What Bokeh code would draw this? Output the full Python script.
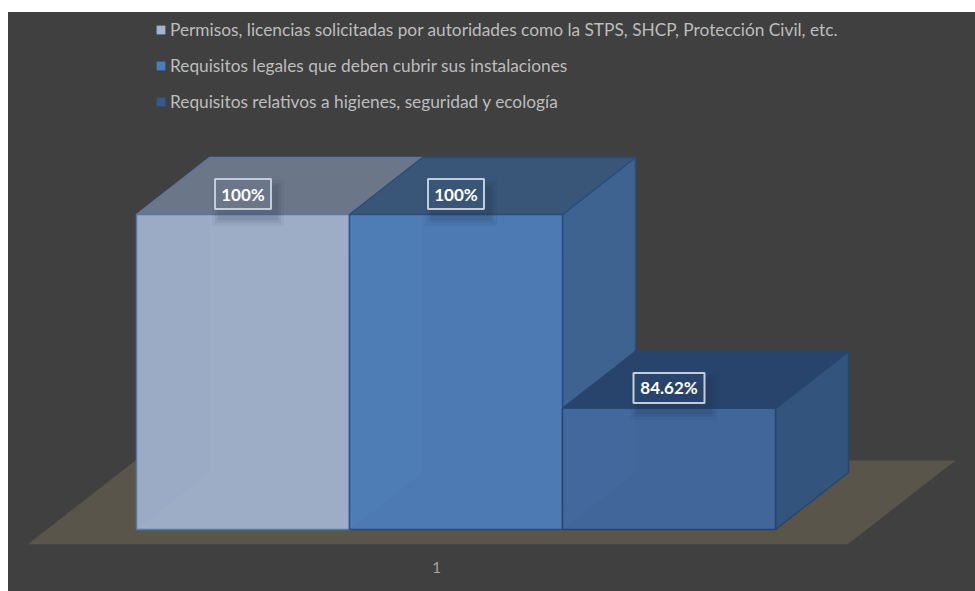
from bokeh.plotting import figure
from bokeh.embed import file_html
from bokeh.resources import INLINE
from bokeh.core.properties import value
from bokeh.models import Legend, LegendItem, FixedTicker, Range1d

series = ["Permisos, licencias solicitadas por autoridades como la STPS, SHCP, Protección Civil, etc.",
          "Requisitos legales que deben cubrir sus instalaciones",
          "Requisitos relativos a higienes, seguridad y ecología"]
values = [100, 100, 84.62]
labels = ["100%", "100%", "84.62%"]
category = ["1"]

front_col = ["#9DADC6", "#4D7AB3", "#41669A"]
top_col = ["#6C7689", "#395678", "#29446C"]
side_col = ["#3F6390", "#3F6390", "#33547C"]
edge_col = ["#5878A6", "#2B4D7C", "#27466F"]
swatch_col = ["#A5B4CF", "#4A7EBB", "#36598A"]
wall_alpha = [0.03, 0.10, 0.07]

# scale: one series slot = 213 px, one percent = 12.6 px, axis floor = 75 %
PX_X, PX_Y, AXIS_MIN = 213.0, 12.6, 75.0
X0_PAGE, BASE_PAGE = 136.0, 529.0
DX, DY = 73 / PX_X, 57 / PX_Y
W, H = 967, 579
BOTTOM = 47

x_start = (8 - X0_PAGE) / PX_X
x_end = (975 - X0_PAGE) / PX_X
y_start = AXIS_MIN - (544 - BASE_PAGE) / PX_Y
y_end = AXIS_MIN + (BASE_PAGE - 12) / PX_Y

p = figure(width=W, height=H, output_backend="svg", toolbar_location=None,
           x_range=Range1d(x_start, x_end), y_range=Range1d(y_start, y_end),
           min_border_left=0, min_border_right=0, min_border_top=0, min_border_bottom=BOTTOM,
           background_fill_color=None, border_fill_color=None, outline_line_color=None)
p.margin = (12, 0, 0, 8)
p.styles = {"background-color": "#404040"}
p.grid.visible = False
p.yaxis.visible = False

# floor
fy0, fy1 = y_start, AXIS_MIN + (BASE_PAGE - 460) / PX_Y
p.patch([(27 - X0_PAGE) / PX_X, (847 - X0_PAGE) / PX_X, (955 - X0_PAGE) / PX_X, (135 - X0_PAGE) / PX_X],
        [fy0, fy0, fy1, fy1], fill_color="#59554A", line_color=None)

for i, v in enumerate(values):
    x0, x1 = i, i + 1
    p.patch([x1, x1 + DX, x1 + DX, x1], [v, v + DY, AXIS_MIN + DY, AXIS_MIN],
            fill_color=side_col[i], line_color=edge_col[i], line_width=1.5)
for i, v in enumerate(values):
    x0, x1 = i, i + 1
    p.patch([x0, x0 + DX, x1 + DX, x1], [v, v + DY, v + DY, v],
            fill_color=top_col[i], line_color=edge_col[i], line_width=1.5)
for i, v in enumerate(values):
    x0, x1 = i, i + 1
    p.quad(left=x0, right=x1, bottom=AXIS_MIN, top=v, fill_color=front_col[i],
           line_color=edge_col[i], line_width=1.5)
    # seen-through interior: left wall slightly lighter
    p.patch([x0, x0 + DX, x0 + DX, x0], [v, v, AXIS_MIN + DY, AXIS_MIN],
            fill_color="#5A8FD0", fill_alpha=wall_alpha[i], line_color=None)

# legend swatches: zero-area quads that only carry the swatch colour
swatches = [p.quad(left=[i], right=[i], bottom=[AXIS_MIN], top=[AXIS_MIN], fill_color=c, line_color=None)
            for i, c in enumerate(swatch_col)]

# data labels with soft shadow and pale frame
for i, v in enumerate(values):
    xc = i + 0.5
    yc = v + 1.62
    w = 71 if len(labels[i]) > 4 else 56
    for k, a in ((16, 0.05), (10, 0.07), (5, 0.09)):
        p.rect(x=xc + 5 / PX_X, y=yc - 9 / PX_Y, width=w + k, height=30 + k,
               width_units="screen", height_units="screen",
               fill_color="#1A2433", fill_alpha=a, line_color=None)
    p.rect(x=xc, y=yc, width=w, height=30, width_units="screen", height_units="screen",
           fill_color=top_col[i], line_color="#C3CCDA", line_width=2)
    p.text(x=[xc], y=[yc], text=[labels[i]], text_align="center", text_baseline="middle",
           text_color="#FFFFFF", text_font=value("Lato"), text_font_style="bold",
           text_font_size="17px")

# legend
legend = Legend(items=[LegendItem(label=s, renderers=[swatches[i]]) for i, s in enumerate(series)],
                location=(147, 432), orientation="vertical", padding=0, margin=0, spacing=15,
                glyph_width=11, glyph_height=11, label_height=18, label_width=10, label_standoff=4,
                background_fill_alpha=0, border_line_color=None,
                label_text_color="#BDBDBD", label_text_font="Lato", label_text_font_size="17.3px",
                label_text_baseline="middle")
p.add_layout(legend, "center")

# category axis
tick = (436 - X0_PAGE) / PX_X
p.xaxis.ticker = FixedTicker(ticks=[tick])
p.xaxis.major_label_overrides = {tick: category[0]}
p.xaxis.axis_line_color = None
p.xaxis.major_tick_line_color = None
p.xaxis.minor_tick_line_color = None
p.xaxis.major_label_text_color = "#A6A6A6"
p.xaxis.major_label_text_font = "Lato"
p.xaxis.major_label_text_font_size = "15px"
p.xaxis.major_label_standoff = 11

open("out.html", "w").write(file_html(p, INLINE))
